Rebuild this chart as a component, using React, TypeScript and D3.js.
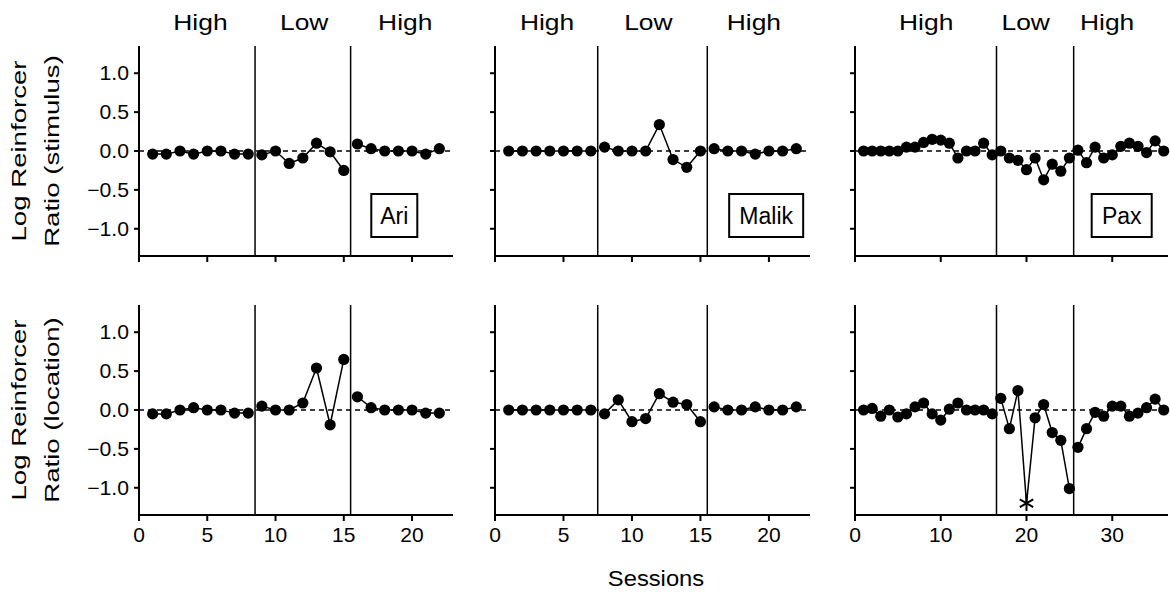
import React from "react";
import * as d3 from "d3";

const width = 1170;
const height = 592;

// log reinforcer ratios, one value per session
const ariStimulus = [-0.04, -0.04, 0.0, -0.04, 0.0, 0.0, -0.04, -0.04, -0.05, 0.0, -0.16, -0.09, 0.1, -0.01, -0.25, 0.09, 0.03, 0.0, 0.0, 0.0, -0.04, 0.03];
const malikStimulus = [0, 0, 0, 0, 0, 0, 0, 0.05, 0, 0, 0, 0.34, -0.11, -0.21, 0, 0.03, 0, 0, -0.04, 0, 0, 0.03];
const paxStimulus = [0, 0, 0, 0, 0, 0.05, 0.05, 0.11, 0.15, 0.14, 0.1, -0.09, 0, 0, 0.1, -0.05, 0, -0.09, -0.12, -0.24, -0.09, -0.37, -0.17, -0.26, -0.09, 0.01, -0.15, 0.05, -0.09, -0.05, 0.06, 0.1, 0.06, -0.02, 0.13, 0];

const ariLocation = [-0.05, -0.05, 0, 0.03, 0, 0, -0.04, -0.04, 0.05, 0, 0, 0.09, 0.54, -0.19, 0.65, 0.17, 0.03, 0, 0, 0, -0.04, -0.04];
const malikLocation = [0, 0, 0, 0, 0, 0, 0, -0.05, 0.13, -0.15, -0.11, 0.21, 0.1, 0.07, -0.15, 0.04, 0, 0, 0.04, 0, 0, 0.04];
const paxLocation = [0, 0.02, -0.08, 0, -0.09, -0.05, 0.04, 0.09, -0.05, -0.13, 0.01, 0.09, 0, 0, 0, -0.05, 0.15, -0.24, 0.25, -1.2, -0.1, 0.07, -0.29, -0.39, -1.01, -0.48, -0.24, -0.03, -0.08, 0.05, 0.05, -0.08, -0.04, 0.03, 0.14, 0];
// sessions whose value fell off the scale (drawn as an asterisk)
const paxLocationOffScale = [20];

const subjects = ["Ari", "Malik", "Pax"];
const phaseNames = ["High", "Low", "High"];
const ariPhaseChanges = [8.5, 15.5];
const malikPhaseChanges = [7.5, 15.5];
const paxPhaseChanges = [16.5, 25.5];
const ariPhaseLabelAt = [4.5, 12.1, 19.5];
const malikPhaseLabelAt = [3.8, 11.2, 18.9];
const paxPhaseLabelAt = [8.3, 19.9, 29.4];

const yTicks = [-1.0, -0.5, 0.0, 0.5, 1.0];
const rowTitles = ["Ratio (stimulus)", "Ratio (location)"];

const font = "Arial, 'Liberation Sans', Helvetica, sans-serif";

const panels = [
  { name: subjects[0], x0: 139, x1: 453, xMax: 23, xTicks: [0, 5, 10, 15, 20], phases: ariPhaseChanges, labelAt: ariPhaseLabelAt, boxAt: 18.7, boxW: 46, rows: [ariStimulus, ariLocation], off: [[], []] },
  { name: subjects[1], x0: 495, x1: 810, xMax: 23, xTicks: [0, 5, 10, 15, 20], phases: malikPhaseChanges, labelAt: malikPhaseLabelAt, boxAt: 19.8, boxW: 74, rows: [malikStimulus, malikLocation], off: [[], []] },
  { name: subjects[2], x0: 855, x1: 1168, xMax: 36.5, xTicks: [0, 10, 20, 30], phases: paxPhaseChanges, labelAt: paxPhaseLabelAt, boxAt: 31.1, boxW: 60, rows: [paxStimulus, paxLocation], off: [[], paxLocationOffScale] }
];

const rowsY = [
  [46, 256],
  [305, 515]
];

// text that can be widened along its reading direction (the figure's font runs wide)
function Label({ x, y, size, stretch = 1, rotate = 0, anchor = "middle", dy = undefined, children }) {
  return (
    <text
      transform={`translate(${x},${y}) rotate(${rotate}) scale(${stretch},1)`}
      dy={dy}
      textAnchor={anchor}
      fontSize={size}
      fontFamily={font}
      fill="#000"
    >
      {children}
    </text>
  );
}

function Panel({ p, row }) {
  const [top, bottom] = rowsY[row];
  const x = d3.scaleLinear().domain([0, p.xMax]).range([p.x0, p.x1]);
  const y = d3.scaleLinear().domain([-1.35, 1.35]).range([bottom, top]);
  const values = p.rows[row];
  const pts = values.map((v, i) => ({ s: i + 1, v }));
  const bounds = [0, ...p.phases, Infinity];
  const segments = bounds.slice(0, -1).map((b, k) => pts.filter((d) => d.s > b && d.s < bounds[k + 1]));
  const line = d3.line().x((d) => x(d.s)).y((d) => y(d.v));
  const off = p.off[row];
  const star = d3.symbol().type(d3.symbolAsterisk).size(170)();

  return (
    <g>
      <line x1={x(0)} x2={x(p.xMax)} y1={y(0)} y2={y(0)} stroke="#000" strokeWidth={1.5} strokeDasharray="5,4" />
      {p.phases.map((ph) => (
        <line key={ph} x1={x(ph)} x2={x(ph)} y1={top} y2={bottom} stroke="#000" strokeWidth={1.5} />
      ))}
      {segments.map((seg, k) => (
        <path key={k} d={line(seg)} fill="none" stroke="#000" strokeWidth={1.5} />
      ))}
      {pts.map((d) =>
        off.includes(d.s) ? (
          <path key={d.s} d={star} transform={`translate(${x(d.s)},${y(d.v)})`} fill="none" stroke="#000" strokeWidth={2} />
        ) : (
          <circle key={d.s} cx={x(d.s)} cy={y(d.v)} r={5.6} fill="#000" />
        )
      )}
      {/* y axis */}
      <line x1={p.x0} x2={p.x0} y1={top} y2={bottom + 1} stroke="#000" strokeWidth={2} />
      {yTicks.map((t) => (
        <g key={t}>
          <line x1={p.x0 - 5} x2={p.x0} y1={y(t)} y2={y(t)} stroke="#000" strokeWidth={2} />
          {p.name === subjects[0] && (
            <Label x={p.x0 - 10} y={y(t)} dy="0.35em" anchor="end" size={20} stretch={1.06}>
              {d3.format(".1f")(t)}
            </Label>
          )}
        </g>
      ))}
      {/* x axis */}
      <line x1={p.x0 - 1} x2={p.x1} y1={bottom} y2={bottom} stroke="#000" strokeWidth={2} />
      {p.xTicks.map((t) => (
        <g key={t}>
          <line x1={x(t)} x2={x(t)} y1={bottom} y2={bottom + 6} stroke="#000" strokeWidth={2} />
          {row === 1 && (
            <Label x={x(t)} y={bottom + 27} size={21}>
              {t}
            </Label>
          )}
        </g>
      ))}
      {row === 0 && (
        <g>
          {phaseNames.map((n, k) => (
            <Label key={k} x={x(p.labelAt[k])} y={30} size={22} stretch={1.2}>
              {n}
            </Label>
          ))}
          <rect x={x(p.boxAt) - p.boxW / 2} y={194} width={p.boxW} height={43} fill="#fff" stroke="#000" strokeWidth={2} />
          <Label x={x(p.boxAt)} y={215.5} dy="0.35em" size={23}>
            {p.name}
          </Label>
        </g>
      )}
    </g>
  );
}

export default function App() {
  return (
    <svg width={width} height={height} style={{ position: "absolute", left: 0, top: 0, background: "#fff" }}>
      {rowTitles.map((t, r) => {
        const cy = (rowsY[r][0] + rowsY[r][1]) / 2;
        return (
          <g key={t}>
            <Label x={19} y={cy} rotate={-90} dy="0.35em" size={20} stretch={1.38}>
              Log Reinforcer
            </Label>
            <Label x={52} y={cy} rotate={-90} dy="0.35em" size={20} stretch={1.38}>
              {t}
            </Label>
          </g>
        );
      })}
      {panels.map((p) => [0, 1].map((r) => <Panel key={p.name + r} p={p} row={r} />))}
      <Label x={656} y={586} size={22} stretch={1.08}>
        Sessions
      </Label>
    </svg>
  );
}
